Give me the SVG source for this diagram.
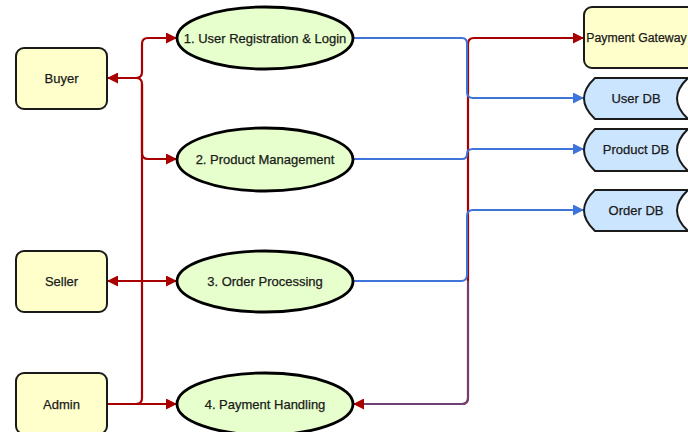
<svg xmlns="http://www.w3.org/2000/svg" width="688" height="432" viewBox="0 0 688 432">
<style>
.actor{fill:#FFFFCC;stroke:#1a1a1a;stroke-width:2}
.uc{fill:#E6FFCC;stroke:#000;stroke-width:2.8}
.db{fill:#CCE5FF;stroke:#1a1a1a;stroke-width:2}
.t{font-family:"Liberation Sans",Arial,sans-serif;font-size:13px;fill:#1a1a1a;stroke:#1a1a1a;stroke-width:0.25;text-anchor:middle;dominant-baseline:central}
.red{fill:none;stroke:#A80000;stroke-width:2.2}
.blue{fill:none;stroke:#3F74DA;stroke-width:2}
</style>
<defs>
<marker id="ar" viewBox="0 0 10 10" refX="10" refY="5" markerWidth="11" markerHeight="11" markerUnits="userSpaceOnUse" orient="auto-start-reverse"><path d="M0,0 L10,5 L0,10 z" fill="#A80000"/></marker>
<marker id="ab" viewBox="0 0 10 10" refX="10" refY="5" markerWidth="11" markerHeight="11" markerUnits="userSpaceOnUse" orient="auto-start-reverse"><path d="M0,0 L10,5 L0,10 z" fill="#3F74DA"/></marker>
</defs>
<g id="connectors">
<path class="red" d="M107 78 H136 Q142 78 142 72 V44 Q142 38 148 38 H177" marker-start="url(#ar)" marker-end="url(#ar)"/>
<path class="red" d="M136 78 Q142 78 142 84 V153 Q142 159 148 159 H177" marker-end="url(#ar)"/>
<path class="red" d="M142 84 V398 Q142 404 136 404"/>
<path class="red" d="M107 281 H177" marker-start="url(#ar)" marker-end="url(#ar)"/>
<path class="red" d="M107 404 H177" marker-end="url(#ar)"/>
<path class="red" d="M353 404 H462 Q468 404 468 398 V44 Q468 38 474 38 H584" marker-start="url(#ar)" marker-end="url(#ar)"/>
<path class="blue" d="M353 38 H462 Q467 38 467 44 V92 Q467 98 473 98 H584" marker-end="url(#ab)"/>
<path class="blue" d="M353 159 H462 Q467 159 467 154 Q467 149 473 149 H584" marker-end="url(#ab)"/>
<path class="blue" d="M353 281 H461 Q467 281 467 275 V216 Q467 210 473 210 H584" marker-end="url(#ab)"/>
<path class="blue" d="M364 404 H462 Q468 404 468 398 V281" stroke-opacity="0.55"/>
</g>
<g id="buyer"><rect class="actor" x="16" y="48" width="91" height="61" rx="8"/><text class="t" x="61.5" y="78.5">Buyer</text></g>
<g id="seller"><rect class="actor" x="16" y="251" width="91" height="61" rx="8"/><text class="t" x="61.5" y="281.5">Seller</text></g>
<g id="admin"><rect class="actor" x="16" y="373" width="91" height="61" rx="8"/><text class="t" x="61.5" y="404">Admin</text></g>
<g id="uc1"><ellipse class="uc" cx="265" cy="38" rx="88" ry="31"/><text class="t" x="265" y="38">1. User Registration &amp; Login</text></g>
<g id="uc2"><ellipse class="uc" cx="265" cy="159.5" rx="88" ry="31.5"/><text class="t" x="265" y="159">2. Product Management</text></g>
<g id="uc3"><ellipse class="uc" cx="265" cy="281.5" rx="88" ry="30.5"/><text class="t" x="265" y="281">3. Order Processing</text></g>
<g id="uc4"><ellipse class="uc" cx="265" cy="404" rx="88" ry="31"/><text class="t" x="265" y="404">4. Payment Handling</text></g>
<g id="payment-gateway"><rect class="actor" x="584" y="7" width="116" height="61" rx="8"/><text class="t" x="636.5" y="38" style="font-size:12.3px">Payment Gateway</text></g>
<g id="user-db"><path class="db" d="M595 78 H688 Q666 98.5 688 119 H595 Q573 98.5 595 78 Z"/><text class="t" x="636" y="98.5">User DB</text></g>
<g id="product-db"><path class="db" d="M595 129 H688 Q666 150 688 171 H595 Q573 150 595 129 Z"/><text class="t" x="636" y="149">Product DB</text></g>
<g id="order-db"><path class="db" d="M595 190 H688 Q666 210.5 688 231 H595 Q573 210.5 595 190 Z"/><text class="t" x="636" y="210.5">Order DB</text></g>
</svg>
